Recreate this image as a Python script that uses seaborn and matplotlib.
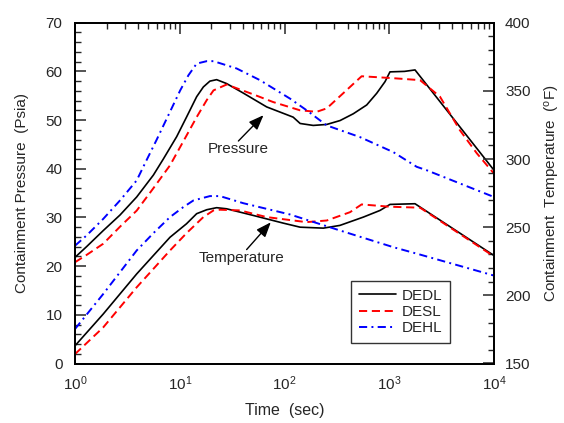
import numpy as np
import pandas as pd
import matplotlib
matplotlib.use("Agg")
import matplotlib.pyplot as plt
import matplotlib.ticker as mticker
from matplotlib.lines import Line2D
import seaborn as sns

# ---------------- data ----------------
t_dedl_p = [1, 1.29, 1.86, 2.69, 3.88, 5.6, 6.97, 9.35, 11.6, 14.5, 16.8, 19.4, 22.5, 28, 40, 67.6, 121, 141, 188, 253, 339, 454, 609, 759, 912, 1016, 1400, 1762, 10000]
p_dedl = [21.8, 24.0, 27.3, 30.5, 34.2, 38.7, 42.0, 46.6, 50.6, 54.8, 56.8, 58.0, 58.3, 57.5, 55.6, 52.7, 50.6, 49.3, 48.9, 49.1, 49.9, 51.3, 53.1, 55.5, 57.9, 59.9, 60.0, 60.3, 39.7]

t_desl_p = [1, 1.29, 1.86, 2.69, 3.88, 5.6, 8.07, 10.8, 14.5, 18.1, 21, 28, 50, 78, 141, 203, 253, 363, 422, 545, 1097, 1968, 3051, 4730, 6840, 10000]
p_desl = [20.8, 22.3, 24.6, 28.1, 31.4, 36.0, 40.7, 45.6, 50.6, 54.1, 56.1, 57.3, 55.3, 53.7, 52.0, 51.7, 52.4, 55.5, 56.8, 59.0, 58.6, 58.2, 54.8, 47.9, 43.2, 39.0]

t_dehl_p = [1, 1.29, 1.86, 2.69, 3.88, 4.83, 6.0, 8.07, 10.1, 12.1, 14.5, 18.1, 21, 34.9, 58.3, 113, 163, 253, 526, 1097, 1828, 2274, 10000]
p_dehl = [24.2, 26.3, 29.7, 33.5, 37.6, 41.8, 45.9, 51.7, 56.1, 59.2, 61.6, 62.1, 62.1, 60.6, 58.2, 54.4, 52.0, 48.9, 46.5, 43.4, 40.4, 39.7, 34.2]

t_dedl_t = [1, 1.86, 3.88, 5.6, 8.07, 11.6, 14.5, 18.1, 22.5, 28, 50.4, 97, 141, 235, 338, 566, 817, 1016, 1762, 10000]
T_dedl = [163.0, 186.3, 215.7, 229.2, 242.6, 252.5, 259.9, 262.8, 264.3, 263.5, 258.6, 253.0, 250.0, 249.3, 251.3, 257.4, 262.3, 266.7, 267.2, 229.2]

t_desl_t = [1, 1.86, 3.88, 5.6, 8.07, 11.6, 16.8, 21, 24.2, 37.6, 67.6, 162, 253, 422, 545, 1016, 1968, 10000]
T_desl = [156.9, 176.5, 205.9, 219.4, 232.9, 245.6, 257.4, 262.3, 262.8, 262.3, 257.4, 253.7, 254.9, 261.0, 266.7, 265.0, 264.3, 228.5]

t_dehl_t = [1, 1.86, 3.88, 5.6, 8.07, 10.8, 13.5, 19.4, 24.2, 40.4, 113, 338, 1097, 1968, 10000]
T_dehl = [175.3, 201.0, 232.9, 245.6, 257.4, 264.7, 269.6, 272.8, 272.8, 267.6, 259.3, 247.6, 235.3, 229.9, 214.5]

series = ["DEDL", "DESL", "DEHL"]
colors = {"DEDL": "black", "DESL": "red", "DEHL": "blue"}
styles = {"DEDL": "-", "DESL": (0, (4.2, 2.4)), "DEHL": (0, (4.2, 2.2, 1.0, 2.2))}
widths = {"DEDL": 1.2, "DESL": 1.4, "DEHL": 1.4}

x_ticks = [1, 10, 100, 1000, 10000]
x_ticklabels = ["$10^{0}$", "$10^{1}$", "$10^{2}$", "$10^{3}$", "$10^{4}$"]

# ---------------- style ----------------
sns.set_style("white")
plt.rcParams["font.family"] = ["Liberation Sans", "DejaVu Sans"]
plt.rcParams["mathtext.default"] = "regular"
plt.rcParams["axes.linewidth"] = 1.3

fig = plt.figure(figsize=(5.64, 4.23), dpi=100)
ax = fig.add_axes([75 / 564, (423 - 363.5) / 423, 419 / 564, (363.5 - 22.7) / 423])
ax2 = ax.twinx()

p_data = {"DEDL": (t_dedl_p, p_dedl), "DESL": (t_desl_p, p_desl), "DEHL": (t_dehl_p, p_dehl)}
T_data = {"DEDL": (t_dedl_t, T_dedl), "DESL": (t_desl_t, T_desl), "DEHL": (t_dehl_t, T_dehl)}

for s in series:
    tx, py = p_data[s]
    df = pd.DataFrame({"t": tx, "v": py})
    sns.lineplot(data=df, x="t", y="v", ax=ax, color=colors[s], linestyle=styles[s], lw=widths[s])
    tx, ty = T_data[s]
    df2 = pd.DataFrame({"t": tx, "v": ty})
    sns.lineplot(data=df2, x="t", y="v", ax=ax2, color=colors[s], linestyle=styles[s], lw=widths[s])

ax.set_xscale("log")
ax.set_xlim(1, 10000)
ax.set_ylim(0, 70)
ax2.set_ylim(150, 400)

ax.set_xticks(x_ticks)
ax.set_xticklabels(x_ticklabels)
ax.xaxis.set_minor_locator(mticker.LogLocator(base=10, subs=np.arange(2, 10)))
ax.xaxis.set_minor_formatter(mticker.NullFormatter())
ax.yaxis.set_major_locator(mticker.MultipleLocator(10))
ax.yaxis.set_minor_locator(mticker.MultipleLocator(2))
ax2.yaxis.set_major_locator(mticker.MultipleLocator(50))
ax2.yaxis.set_minor_locator(mticker.MultipleLocator(10))

ax.tick_params(axis="both", which="major", direction="in", length=8, width=1.1, labelsize=11, top=True)
ax.tick_params(axis="both", which="minor", direction="in", length=4.5, width=1.0, top=True)
ax.tick_params(axis="y", which="both", right=False, pad=9)
ax.tick_params(axis="x", which="major", pad=8)
ax2.tick_params(axis="y", which="major", direction="in", length=8, width=1.1, labelsize=11, pad=8)
ax2.tick_params(axis="y", which="minor", direction="in", length=4.5, width=1.0)

ax.set_xlabel("Time  (sec)", fontsize=11.5, labelpad=7)
ax.set_ylabel("Containment Pressure  (Psia)", fontsize=11, labelpad=12)
ax2.set_ylabel("Containment  Temperature  ($^{o}$F)", fontsize=11, rotation=90, labelpad=9)

for sp in list(ax.spines.values()) + list(ax2.spines.values()):
    sp.set_color("black")

# annotations
arrow_kw = dict(arrowstyle="-|>,head_length=0.9,head_width=0.35", color="black", lw=1.0, shrinkA=0, shrinkB=0)
ax.text(36.5, 44.0, "Pressure", fontsize=11, ha="center", va="center")
ax.annotate("", xy=(63, 51.0), xytext=(36.3, 45.7), arrowprops=arrow_kw)
ax.text(38.5, 21.6, "Temperature", fontsize=11, ha="center", va="center")
ax.annotate("", xy=(74, 29.0), xytext=(43.5, 23.4), arrowprops=arrow_kw)

handles = [Line2D([0], [0], color=colors[s], linestyle=styles[s], lw=widths[s]) for s in series]
leg = ax2.legend(handles, series, loc="lower right", bbox_to_anchor=(0.895, 0.060), fontsize=11,
                 frameon=True, fancybox=False, edgecolor="black", handlelength=2.4,
                 borderpad=0.5, labelspacing=0.15, handletextpad=0.4, borderaxespad=0)
leg.get_frame().set_linewidth(1.0)

fig.savefig("out.png", dpi=100)
